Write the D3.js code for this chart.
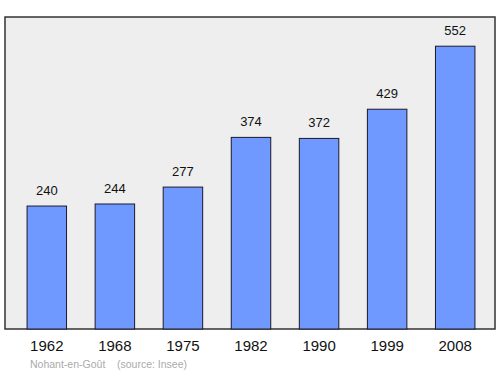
<!DOCTYPE html>
<html>
<head>
<meta charset="utf-8">
<script src="https://cdn.jsdelivr.net/npm/d3@7"></script>
<style>
  body { margin: 0; background: #fff; }
  text { font-family: "Liberation Sans", Arial, sans-serif; }
</style>
</head>
<body>
<div id="chart"></div>
<script>
var years = ["1962", "1968", "1975", "1982", "1990", "1999", "2008"];
var population = [240, 244, 277, 374, 372, 429, 552];
var sourceText = "Nohant-en-Goût    (source: Insee)";

var width = 500, height = 374;
var frame = {left: 5, top: 17, right: 495, bottom: 329};

var svg = d3.select("#chart")
  .append("svg")
    .attr("width", width)
    .attr("height", height);

svg.append("rect")
  .attr("x", frame.left)
  .attr("y", frame.top)
  .attr("width", frame.right - frame.left)
  .attr("height", frame.bottom - frame.top)
  .attr("fill", "#eeeeee")
  .attr("stroke", "#333")
  .attr("stroke-width", 1.5);

var x = d3.scaleBand()
  .domain(years)
  .range([frame.left + 3, frame.right - 1])
  .paddingInner(0.42)
  .paddingOuter(0.28);

var y = d3.scaleLinear()
  .domain([0, 609])
  .range([frame.bottom, frame.top]);

var data = years.map(function(d, i) { return {year: d, value: population[i]}; });

svg.selectAll("rect.bar")
  .data(data)
  .enter()
  .append("rect")
    .attr("class", "bar")
    .attr("x", function(d) { return x(d.year); })
    .attr("y", function(d) { return y(d.value); })
    .attr("width", x.bandwidth())
    .attr("height", function(d) { return y(0) - y(d.value); })
    .attr("fill", "#7099ff")
    .attr("stroke", "#1a1a2a")
    .attr("stroke-width", 1);

svg.selectAll("text.value")
  .data(data)
  .enter()
  .append("text")
    .attr("class", "value")
    .attr("x", function(d) { return x(d.year) + x.bandwidth() / 2; })
    .attr("y", function(d) { return y(d.value) - 11; })
    .attr("text-anchor", "middle")
    .attr("font-size", 13)
    .attr("fill", "#111")
    .text(function(d) { return d.value; });

var axis = d3.axisBottom(x).tickSize(0).tickPadding(11);
var g = svg.append("g")
  .attr("transform", "translate(0," + frame.bottom + ")")
  .call(axis);
g.select(".domain").remove();
g.selectAll("text")
  .attr("font-size", 15)
  .attr("font-family", "Liberation Sans, Arial, sans-serif")
  .attr("fill", "#111");

svg.append("text")
  .attr("x", 30)
  .attr("y", 368)
  .attr("font-size", 10.5)
  .attr("fill", "#aaaaaa")
  .attr("xml:space", "preserve")
  .style("white-space", "pre")
  .text(sourceText);
</script>
</body>
</html>
